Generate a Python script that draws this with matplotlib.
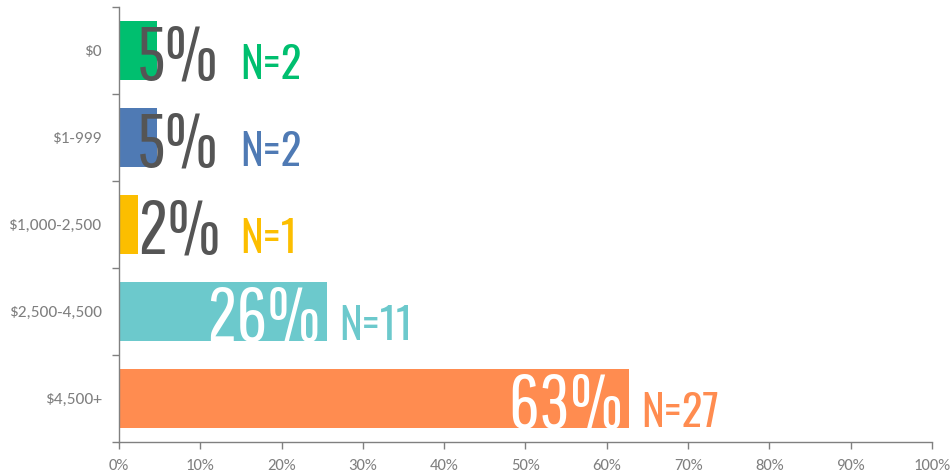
import matplotlib
matplotlib.use("Agg")
import matplotlib.pyplot as plt
from matplotlib.ticker import FixedLocator, PercentFormatter

# survey answers, N = 43
categories = ["$0", "$1-999", "$1,000-2,500", "$2,500-4,500", "$4,500+"]
counts = [2, 2, 1, 11, 27]
total = sum(counts)
shares = [100 * c / total for c in counts]
colors = ["#00BF6F", "#4F7AB4", "#FCBE00", "#6CC9CC", "#FF8C50"]

THIN = ["Pathway Gothic One", "Oswald", "DejaVu Sans"]
BOLD = ["Oswald", "DejaVu Sans"]
AXIS_GREY = "#808080"

fig = plt.figure(figsize=(9.53, 4.76), dpi=100)
ax = fig.add_axes([119 / 953, 1 - 442 / 476, (932 - 119) / 953, (442 - 7) / 476])

y = list(range(len(categories)))
ax.barh(y, shares, height=0.667, color=colors)
ax.set_ylim(len(categories) - 0.5, -0.5)
ax.set_xlim(0, 100)

for i, (s, n, c) in enumerate(zip(shares, counts, colors)):
    base = i + 0.333
    pct = f"{s:.0f}%"
    if s > 15:
        ax.text(s - 0.8, base, pct, ha="right", va="baseline", color="white",
                fontsize=55, family=THIN)
        nx = s + 1.5
    else:
        ax.text(2.2, base, pct, ha="left", va="baseline", color="#555555",
                fontsize=55, family=THIN)
        nx = 14.9
    ax.text(nx, base, f"N={n}", ha="left", va="baseline", color=c,
            fontsize=31, family=BOLD)

# category labels centred, tick marks on the boundaries
ax.set_yticks(y, categories)
ax.yaxis.set_minor_locator(FixedLocator([i - 0.5 for i in range(len(categories) + 1)]))
ax.tick_params(axis="y", which="major", length=0, pad=12.5, labelsize=12.5, labelcolor="#7F7F7F")
ax.tick_params(axis="y", which="minor", length=5, width=1, color=AXIS_GREY)

ax.set_xticks(range(0, 101, 10))
ax.xaxis.set_major_formatter(PercentFormatter(decimals=0))
ax.tick_params(axis="x", length=5, width=1, color=AXIS_GREY, pad=7,
               labelsize=12, labelcolor="#7F7F7F")

for lab in ax.get_xticklabels() + ax.get_yticklabels():
    lab.set_family(["Carlito", "DejaVu Sans"])

for side in ("top", "right"):
    ax.spines[side].set_visible(False)
for side in ("left", "bottom"):
    ax.spines[side].set_color(AXIS_GREY)
    ax.spines[side].set_linewidth(1)

fig.savefig("out.png", dpi=100)
